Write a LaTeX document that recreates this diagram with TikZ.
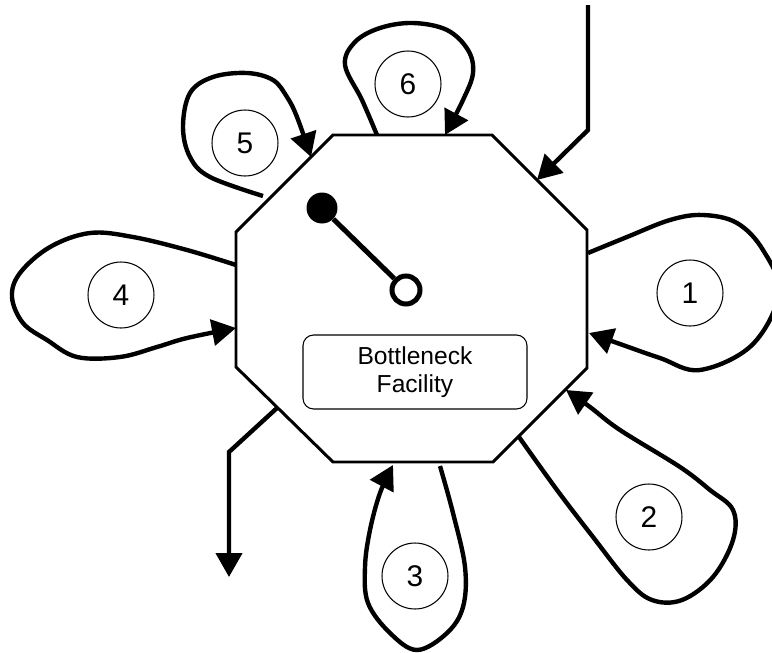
\documentclass[tikz,border=0pt]{standalone}
\usepackage{fontspec}
\setmainfont{Liberation Sans}
\usetikzlibrary{arrows.meta}

\begin{document}
\begin{tikzpicture}
	\pgfsetxvec{\pgfpoint{0.02cm}{0.0cm}}
	\pgfsetyvec{\pgfpoint{0.0cm}{-0.02cm}}
	\tikzset{
		wall/.style={line width=1.7pt, line join=miter},
		num/.style={draw, circle, line width=0.6pt, minimum size=1.32cm, inner sep=0pt, font=\fontsize{17}{17}\selectfont},
		flow/.style={line width=2.5pt, -{Triangle[length=0.48cm,width=0.52cm]}},
		route/.style={flow, smooth, tension=0.6}
	}
	\useasboundingbox (0,0) rectangle (772,653);

	\coordinate (nw) at (333,135);
	\coordinate (ne) at (492,135);
	\coordinate (en) at (587,230);
	\coordinate (es) at (587,368);
	\coordinate (se) at (493,462);
	\coordinate (sw) at (333,462);
	\coordinate (ws) at (236,367);
	\coordinate (wn) at (236,232);
	\draw[wall] (nw) -- (ne) -- (en) -- (es) -- (se) -- (sw) -- (ws) -- (wn) -- cycle;

	\node[num] at (690,293) (n1) {1};
	\node[num] at (649,517) (n2) {2};
	\node[num] at (415,576) (n3) {3};
	\node[num] at (121,295) (n4) {4};
	\node[num] at (245,143) (n5) {5};
	\node[num] at (408,84) (n6) {6};

	\node[draw, rounded corners=6pt, line width=0.6pt, minimum width=4.48cm, minimum height=1.48cm,
		align=center, font=\fontsize{14}{16}\selectfont] at (415,372) (facility) {Bottleneck\\Facility};

	\node[fill, circle, minimum size=0.62cm, inner sep=0pt] at (322,208) (knob) {};
	\node[draw, circle, line width=0.1cm, minimum size=0.56cm, inner sep=0pt] at (406,290) (hole) {};
	\draw[line width=0.1cm] (knob) -- (hole);

	\coordinate (o1) at (588,253);
	\coordinate (i1) at (589,333);
	\coordinate (o2) at (519,437);
	\coordinate (i2) at (566,390);
	\coordinate (o3) at (440,466);
	\coordinate (i3) at (393,465);
	\coordinate (o4) at (236,265);
	\coordinate (i4) at (236,328);
	\coordinate (o5) at (263,196);
	\coordinate (i5) at (311,157);
	\coordinate (o6) at (377,135);
	\coordinate (i6) at (445,135);
	\coordinate (entry) at (588,5);
	\coordinate (feed) at (537,180);
	\coordinate (exit) at (277,408);
	\coordinate (sink) at (229,577);

	\draw[route] plot coordinates {(o1) (627,237) (670,220) (703,215) (737,223) (763,250) (779,293) (752,345) (700,370) (660,358) (620,344) (i1)};
	\draw[route] plot coordinates {(o2) (557,490) (593,537) (627,580) (652,600) (682,600) (713,577) (733,540) (733,510) (710,490) (680,467) (620,430) (590,407) (i2)};
	\draw[route] plot coordinates {(o3) (453,513) (465,567) (463,607) (447,633) (417,650) (390,633) (368,603) (365,567) (370,530) (380,493) (i3)};
	\draw[route] plot coordinates {(o4) (187,250) (133,237) (90,233) (50,247) (20,273) (12,297) (23,323) (47,340) (77,357) (120,357) (157,347) (187,338) (i4)};
	\draw[route] plot coordinates {(o5) (210,177) (190,157) (183,127) (190,93) (213,77) (247,73) (273,80) (287,97) (297,117) (i5)};
	\draw[route] plot coordinates {(o6) (362,100) (345,65) (355,42) (380,28) (413,23) (447,30) (468,50) (473,73) (463,100) (i6)};
	\draw[flow] (entry) -- (588,130) -- (feed);
	\draw[flow] (exit) -- (229,452) -- (sink);

\end{tikzpicture}
\end{document}
